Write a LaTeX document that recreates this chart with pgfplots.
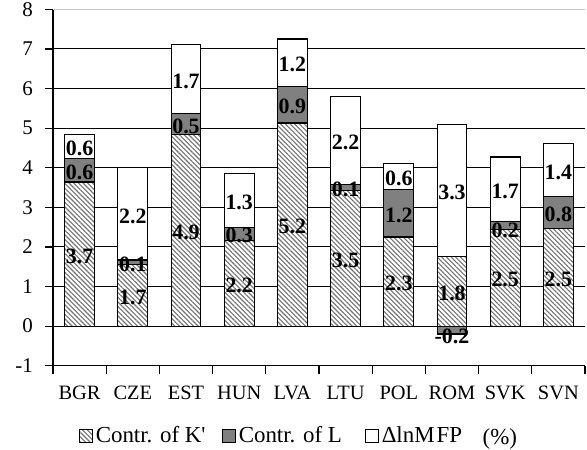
\documentclass[border=0pt]{standalone}
\usepackage{fontspec}
\setmainfont{Liberation Serif}
\usepackage{pgfplots}
\pgfplotsset{compat=1.18}
\usepackage{pgfplotstable}
\usetikzlibrary{patterns.meta}

\pgfplotstableread{
x K L M
0 3.64 0.60 0.60
1 1.55 0.12 2.33
2 4.83 0.53 1.76
3 2.17 0.33 1.35
4 5.13 0.93 1.19
5 3.42 0.15 2.23
6 2.25 1.20 0.65
7 1.75 0.00 3.33
8 2.45 0.20 1.62
9 2.46 0.82 1.32
}\datatable

\pgfplotstableread{
x y lab
0 1.82 3.7
0 3.94 0.6
0 4.54 0.6
1 0.78 1.7
1 1.61 0.1
1 2.83 2.2
2 2.42 4.9
2 5.10 0.5
2 6.24 1.7
3 1.09 2.2
3 2.34 0.3
3 3.18 1.3
4 2.57 5.2
4 5.60 0.9
4 6.65 1.2
5 1.71 3.5
5 3.50 0.1
5 4.69 2.2
6 1.13 2.3
6 2.85 1.2
6 3.78 0.6
7 0.88 1.8
7 -0.22 -0.2
7 3.42 3.3
8 1.23 2.5
8 2.48 0.2
8 3.46 1.7
9 1.23 2.5
9 2.87 0.8
9 3.94 1.4
}\labeltable

\definecolor{darkgr}{HTML}{808080}
\pgfplotsset{
  boxlegend/.style={legend image code/.code={\draw[##1,line width=1bp] (0bp,-6.5bp) rectangle (13bp,6.5bp);}},
}

\begin{document}
\begin{tikzpicture}
\path[use as bounding box] (-53bp,-84.3bp) rectangle (534bp,365.7bp);
\begin{axis}[
  at={(0,0)}, anchor=south west, scale only axis,
  width=532bp, height=356.4bp,
  xmin=-0.5, xmax=9.5, ymin=-1, ymax=8,
  ybar stacked, bar width=0.56,
  axis x line*=bottom, axis y line*=left,
  axis line style={line width=1.2bp, black},
  ytick={-1,0,...,7},
  extra y ticks={8},
  extra y tick style={grid style={draw=black!22, line width=1bp}},
  ymajorgrids, grid style={line width=1bp, black},
  tick align=outside, major tick length=8bp,
  tick style={line width=1.2bp, black},
  xtick={-0.5,0.5,...,9.5},
  xticklabels={},
  extra x ticks={0,...,9},
  extra x tick labels={BGR,CZE,EST,HUN,LVA,LTU,POL,ROM,SVK,SVN},
  extra x tick style={tick style={draw=none},
    xticklabel style={font=\fontsize{20.5}{24}\selectfont, inner sep=0pt, yshift=-12bp}},
  /pgf/number format/assume math mode=true,
  yticklabel style={font=\fontsize{21}{24}\selectfont, inner sep=0pt, xshift=-12bp},
  legend columns=3,
  legend style={at={(0.049,-0.196)}, anchor=west, draw=none, fill=none,
    inner sep=0pt, font=\fontsize{23}{26}\selectfont,
    nodes={inner sep=1.5bp, font=\fontsize{23}{26}\selectfont},
    /tikz/every odd column/.append style={column sep=1bp},
    /tikz/every even column/.append style={column sep=0bp}},
  legend cell align=left,
]
\addplot[draw=black, line width=1.1bp, fill=white,
  postaction={pattern={Lines[angle=-45,distance=3.3bp,line width=1.1bp]}, pattern color=black!55},
  boxlegend]
  table[x=x, y=K] {\datatable};
\addplot[draw=black, line width=1.1bp, fill=darkgr, boxlegend]
  table[x=x, y=L] {\datatable};
\addplot[draw=black, line width=1.1bp, fill=white, boxlegend]
  table[x=x, y=M] {\datatable};
\legend{\makebox[125bp][l]{Contr. of K\textquotesingle}, \makebox[125bp][l]{Contr. of L}, ΔlnM\kern2bp FP}
\end{axis}
\begin{axis}[
  at={(0,0)}, anchor=south west, scale only axis,
  width=532bp, height=356.4bp,
  xmin=-0.5, xmax=9.5, ymin=-1, ymax=8,
  axis lines=none, clip=false,
]
\addplot[ybar, bar width=0.56, draw=black, line width=1.1bp, fill=darkgr]
  coordinates {(7,-0.2)};
\addplot[draw=none, mark=none, nodes near coords, point meta=explicit symbolic,
  nodes near coords align=center,
  every node near coord/.append style={font=\bfseries\fontsize{22}{24}\selectfont, inner sep=0pt, anchor=center, yshift=-2bp, text=black}]
  table[x=x, y=y, meta=lab] {\labeltable};
\node[font=\fontsize{23}{26}\selectfont, anchor=center] at (rel axis cs:0.840,-0.205) {(\%)};
\end{axis}
\end{tikzpicture}
\end{document}
